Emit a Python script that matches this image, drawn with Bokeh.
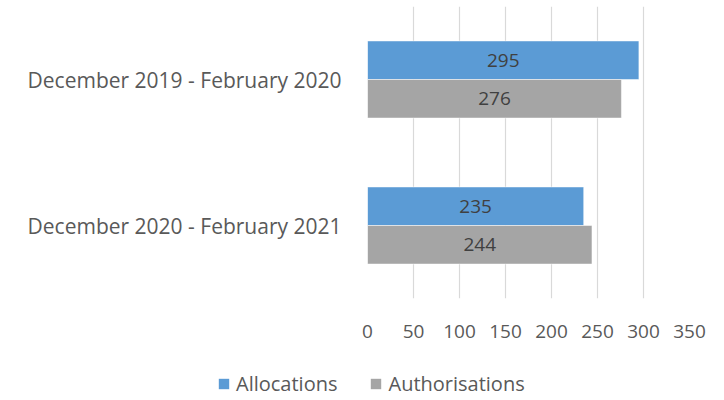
from bokeh.plotting import figure
from bokeh.models import ColumnDataSource, FactorRange, Range1d, Legend, LegendItem, FixedTicker
from bokeh.transform import dodge
from bokeh.core.properties import value
from bokeh.embed import file_html
from bokeh.resources import INLINE

categories = ["December 2019 - February 2020", "December 2020 - February 2021"]
allocations = [295, 235]
authorisations = [276, 244]
series_names = ["Allocations", "Authorisations"]
x_ticks = [0, 50, 100, 150, 200, 250, 300, 350]

BLUE = "#5B9BD5"
GRAY = "#A5A5A5"
TXT = "#595959"
FONT = "Open Sans"

src = ColumnDataSource(dict(
    cat=categories,
    alloc=allocations,
    auth=authorisations,
    alloc_mid=[v / 2 for v in allocations],
    auth_mid=[v / 2 for v in authorisations],
    alloc_s=[str(v) for v in allocations],
    auth_s=[str(v) for v in authorisations],
))

p = figure(frame_width=322, frame_height=292,
           y_range=FactorRange(*reversed(categories)),
           x_range=Range1d(0, 350),
           output_backend="svg", toolbar_location=None,
           min_border_left=367, min_border_right=31,
           min_border_top=6, min_border_bottom=62)
p.outline_line_color = None
p.background_fill_color = "white"
p.border_fill_color = "white"

off = 0.132
h = 0.264
r1 = p.hbar(y=dodge("cat", off, range=p.y_range), right="alloc", left=0, height=h,
            source=src, fill_color=BLUE, line_color="white", line_width=0.5)
r2 = p.hbar(y=dodge("cat", -off, range=p.y_range), right="auth", left=0, height=h,
            source=src, fill_color=GRAY, line_color="white", line_width=0.5)

p.text(x="alloc_mid", y=dodge("cat", off, range=p.y_range), text="alloc_s", source=src,
       text_align="center", text_baseline="middle", text_color="#404040",
       text_font=value(FONT), text_font_size="19px")
p.text(x="auth_mid", y=dodge("cat", -off, range=p.y_range), text="auth_s", source=src,
       text_align="center", text_baseline="middle", text_color="#404040",
       text_font=value(FONT), text_font_size="19px")

p.ygrid.grid_line_color = None
p.xgrid.grid_line_color = "#D9D9D9"
p.xgrid.grid_line_width = 1.2
p.xaxis.ticker = FixedTicker(ticks=x_ticks)

for ax in (p.xaxis[0], p.yaxis[0]):
    ax.axis_line_color = None
    ax.major_tick_line_color = None
    ax.minor_tick_line_color = None
    ax.major_label_text_color = TXT
    ax.major_label_text_font = FONT
p.xaxis.major_label_text_font_size = "19px"
p.xaxis.major_label_standoff = 20
p.yaxis.major_label_text_font_size = "21px"
p.yaxis.major_label_standoff = 20

# legend strip (separate root so its frame is not aligned to the chart's frame)
lg = figure(width=720, height=40, x_range=Range1d(0, 1), y_range=Range1d(0, 1),
            output_backend="svg", toolbar_location=None,
            x_axis_location=None, y_axis_location=None,
            min_border_left=0, min_border_right=0, min_border_top=0, min_border_bottom=0)
lg.outline_line_color = None
lg.grid.grid_line_color = None
lg.background_fill_color = "white"
lg.border_fill_color = "white"
lr1 = lg.hbar(y=0, right="alloc", left=0, height=0.1, source=src,
              fill_color=BLUE, line_color=None, visible=False)
lr2 = lg.hbar(y=0, right="auth", left=0, height=0.1, source=src,
              fill_color=GRAY, line_color=None, visible=False)

legend = Legend(items=[LegendItem(label=series_names[0], renderers=[lr1]),
                       LegendItem(label=series_names[1], renderers=[lr2])],
                orientation="horizontal", location=(217, 3),
                label_text_font=FONT, label_text_font_size="20px", label_text_color=TXT,
                glyph_width=13, glyph_height=13, spacing=32, label_standoff=6,
                border_line_color=None, background_fill_alpha=0,
                inactive_fill_alpha=0,
                padding=0, margin=0)
lg.add_layout(legend, "center")

open("out.html", "w").write(file_html([p, lg], INLINE))
